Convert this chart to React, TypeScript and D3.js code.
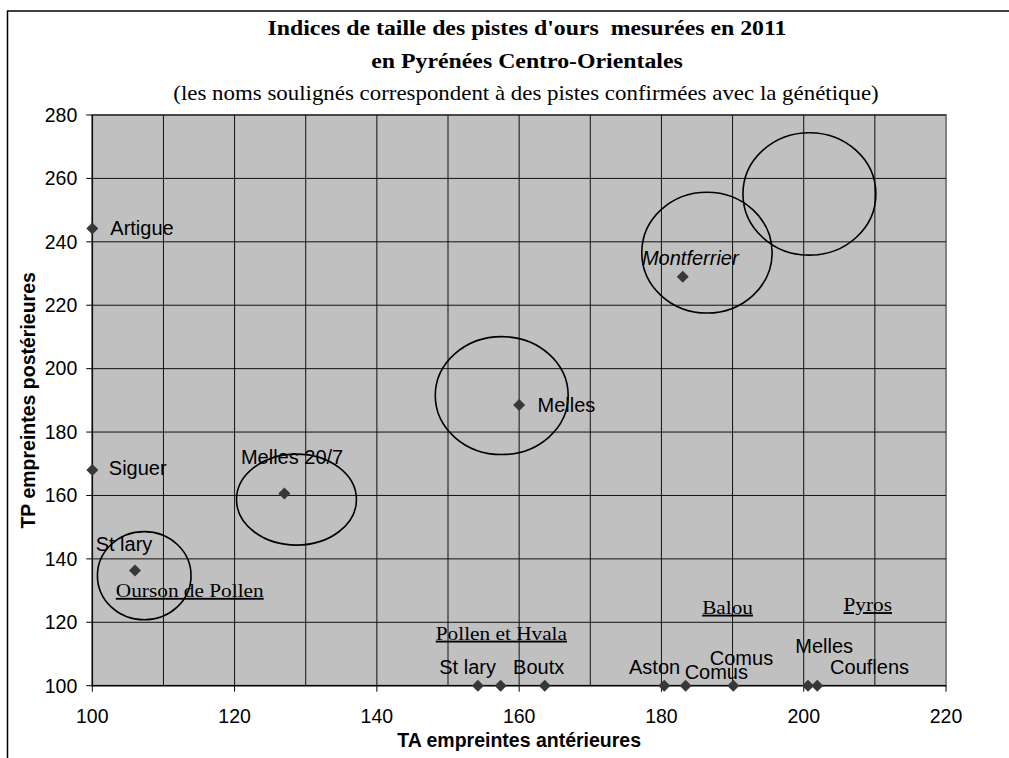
import React from "react";
import * as d3 from "d3";

// ---- Data ----
const pointNames = [
  "Artigue", "Siguer", "St lary", "Melles 20/7", "Melles", "Montferrier",
  "St lary", "", "Boutx", "Aston", "Comus", "Comus", "Melles", "Couflens",
];
const taValues = [100, 100, 106, 127, 160, 183, 154.2, 157.4, 163.6, 180.4, 183.4, 190.1, 200.6, 201.9];
const tpValues = [244.2, 168, 136.3, 160.6, 188.5, 229, 100, 100, 100, 100, 100, 100, 100, 100];

// ellipses drawn around groups (data units)
const ellipseCx = [107.3, 128.7, 157.55, 186.4, 200.8];
const ellipseCy = [134.7, 158.7, 191.5, 236.6, 255.1];
const ellipseRx = [6.58, 8.43, 9.34, 9.16, 9.34];
const ellipseRy = [13.9, 14.35, 18.6, 19.05, 19.3];

// underlined notes (genetically confirmed tracks), data coords of text centre / baseline
const noteTexts = ["Ourson de Pollen", "Pollen et Hvala", "Balou", "Pyros"];
const noteTa = [113.7, 157.5, 189.3, 209.0];
const noteTp = [128.0, 114.5, 122.7, 123.5];

const xTicks = [100, 120, 140, 160, 180, 200, 220];
const yTicks = [100, 120, 140, 160, 180, 200, 220, 240, 260, 280];
const xGrid = [110, 120, 130, 140, 150, 160, 170, 180, 190, 200, 210];
const yGrid = [120, 140, 160, 180, 200, 220, 240, 260, 280];

const titleLines = [
  "Indices de taille des pistes d'ours  mesurées en 2011",
  "en Pyrénées Centro-Orientales",
];
const subtitle = "(les noms soulignés correspondent à des pistes confirmées avec la génétique)";
const xTitle = "TA empreintes antérieures";
const yTitle = "TP empreintes postérieures";

// label placement (pixels relative to marker)
const labelStyle: { anchor: string; dx: number; dy: number; italic?: boolean }[] = [
  { anchor: "start", dx: 18, dy: 6 },
  { anchor: "start", dx: 16.5, dy: 4.5 },
  { anchor: "middle", dx: -11, dy: -19.7 },
  { anchor: "middle", dx: 7.7, dy: -30 },
  { anchor: "start", dx: 18.4, dy: 6.4 },
  { anchor: "middle", dx: 7.5, dy: -11.4, italic: true },
  { anchor: "middle", dx: -10.3, dy: -11.6 },
  { anchor: "middle", dx: 0, dy: 0 },
  { anchor: "middle", dx: -6.1, dy: -11.6 },
  { anchor: "middle", dx: -9.7, dy: -11.6 },
  { anchor: "middle", dx: 30.7, dy: -6.7 },
  { anchor: "middle", dx: 8.2, dy: -20.6 },
  { anchor: "middle", dx: 16.2, dy: -33.2 },
  { anchor: "middle", dx: 52.3, dy: -11.6 },
];

const W = 1009;
const H = 758;
const SANS = "'Liberation Sans', Arial, sans-serif";
const SERIF = "'Liberation Serif', 'Times New Roman', serif";
const STRETCH = 1.145;

function SerifText(props: {
  x: number; y: number; size: number; bold?: boolean; anchor?: string;
  underline?: boolean; children: string;
}) {
  const { x, y, size, bold, anchor, underline, children } = props;
  return (
    <g transform={`translate(${x},${y}) scale(${STRETCH},1)`}>
      <text
        x={0}
        y={0}
        fontFamily={SERIF}
        fontSize={size}
        fontWeight={bold ? "bold" : "normal"}
        textAnchor={anchor || "middle"}
        textDecoration={underline ? "underline" : undefined}
        style={{ whiteSpace: "pre" }}
        fill="#000"
      >
        {children}
      </text>
    </g>
  );
}

export default function App() {
  const x = d3.scaleLinear().domain([100, 220]).range([92.3, 946]);
  const y = d3.scaleLinear().domain([100, 280]).range([685.7, 115]);
  const diamond = d3.symbol().type(d3.symbolSquare).size(72)() as string;

  const left = x(100);
  const right = x(220);
  const top = y(280);
  const bottom = y(100);

  return (
    <svg
      width={W}
      height={H}
      style={{ position: "absolute", left: 0, top: 0, display: "block", background: "#fff" }}
    >
      {/* outer chart border (extends past page on right/bottom) */}
      <path d={`M7.5,${H} L7.5,11 L${W},11`} fill="none" stroke="#000" strokeWidth={1.5} />

      {/* titles */}
      <SerifText x={527} y={35} size={20.8} bold>{titleLines[0]}</SerifText>
      <SerifText x={527} y={68} size={20.8} bold>{titleLines[1]}</SerifText>
      <SerifText x={526} y={100} size={20}>{subtitle}</SerifText>

      {/* plot area */}
      <rect x={left} y={top} width={right - left} height={bottom - top} fill="#c0c0c0" stroke="#808080" strokeWidth={2} />

      {/* gridlines */}
      {xGrid.map((v) => (
        <line key={"gx" + v} x1={x(v)} x2={x(v)} y1={top} y2={bottom} stroke="#111" strokeWidth={1} />
      ))}
      {yGrid.map((v) => (
        <line key={"gy" + v} x1={left} x2={right} y1={y(v)} y2={y(v)} stroke="#111" strokeWidth={1} />
      ))}

      {/* axes */}
      <line x1={left} x2={left} y1={top} y2={bottom} stroke="#000" strokeWidth={1.2} />
      <line x1={left} x2={right} y1={bottom} y2={bottom} stroke="#000" strokeWidth={1.2} />
      {yTicks.map((v) => (
        <g key={"yt" + v}>
          <line x1={left - 6} x2={left} y1={y(v)} y2={y(v)} stroke="#000" strokeWidth={1} />
          <text x={left - 15} y={y(v) + 6.8} textAnchor="end" fontFamily={SANS} fontSize={19.5} fill="#000">
            {v}
          </text>
        </g>
      ))}
      {xTicks.map((v) => (
        <g key={"xt" + v}>
          <line x1={x(v)} x2={x(v)} y1={bottom} y2={bottom + 6} stroke="#000" strokeWidth={1} />
          <text x={x(v)} y={723.3} textAnchor="middle" fontFamily={SANS} fontSize={19.5} fill="#000">
            {v}
          </text>
        </g>
      ))}

      {/* axis titles */}
      <text x={(left + right) / 2} y={747} textAnchor="middle" fontFamily={SANS} fontSize={19.5} fontWeight="bold" fill="#000">
        {xTitle}
      </text>
      <text
        transform={`translate(35,${(top + bottom) / 2}) rotate(-90)`}
        textAnchor="middle"
        fontFamily={SANS}
        fontSize={19.5}
        fontWeight="bold"
        fill="#000"
      >
        {yTitle}
      </text>

      {/* ellipses */}
      {ellipseCx.map((cx, i) => (
        <ellipse
          key={"el" + i}
          cx={x(cx)}
          cy={y(ellipseCy[i])}
          rx={x(cx + ellipseRx[i]) - x(cx)}
          ry={y(ellipseCy[i]) - y(ellipseCy[i] + ellipseRy[i])}
          fill="none"
          stroke="#000"
          strokeWidth={1.6}
        />
      ))}

      {/* markers */}
      {taValues.map((ta, i) => (
        <path
          key={"m" + i}
          d={diamond}
          transform={`translate(${x(ta)},${y(tpValues[i])}) rotate(45)`}
          fill="#383838"
        />
      ))}

      {/* data labels */}
      {pointNames.map((name, i) =>
        name ? (
          <text
            key={"lb" + i}
            x={x(taValues[i]) + labelStyle[i].dx}
            y={y(tpValues[i]) + labelStyle[i].dy}
            textAnchor={labelStyle[i].anchor}
            fontFamily={SANS}
            fontSize={20}
            fontStyle={labelStyle[i].italic ? "italic" : "normal"}
            fill="#000"
          >
            {name}
          </text>
        ) : null
      )}

      {/* underlined notes */}
      {noteTexts.map((t, i) => (
        <SerifText key={"nt" + i} x={x(noteTa[i])} y={y(noteTp[i])} size={18.6} underline>
          {t}
        </SerifText>
      ))}
    </svg>
  );
}
